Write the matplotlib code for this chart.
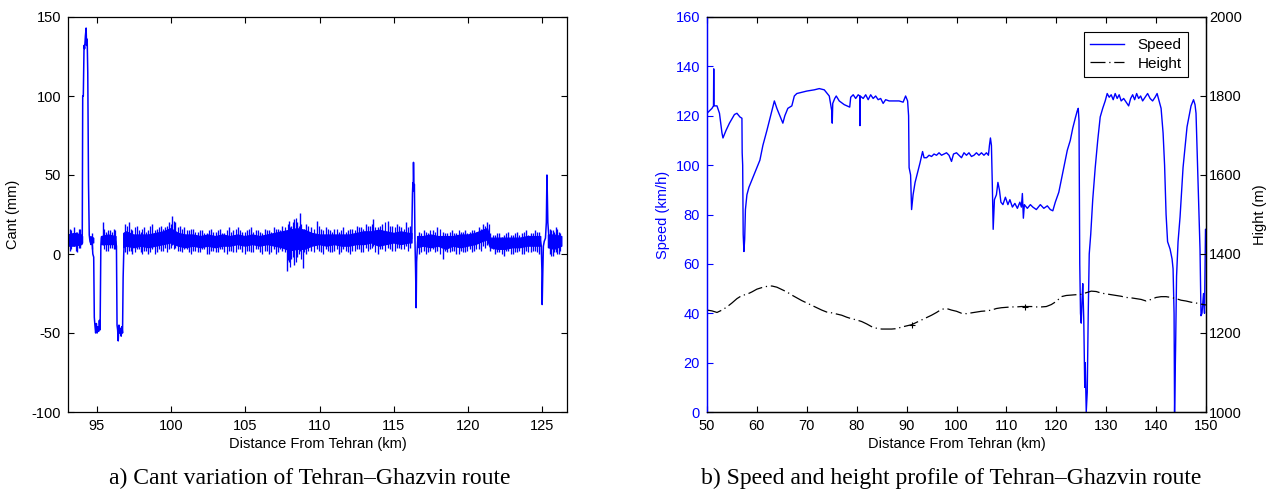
import numpy as np
import matplotlib
matplotlib.use("Agg")
import matplotlib.pyplot as plt

nan = np.nan

# ---------------- (a) Cant data ----------------
band_km = [93.07, 93.5, 94.0, 94.05, 94.3, 94.6, 94.8, 95.05, 95.32, 95.8, 96.3, 96.55, 96.82, 97.0, 97.5,
           98.0, 98.5, 99.0, 99.5, 100.0, 100.5, 101.0, 101.5, 102.0, 102.5, 103.0, 103.5, 104.0, 104.5,
           105.0, 105.5, 106.0, 106.5, 107.0, 107.5, 108.0, 108.5, 109.0, 109.5, 110.0, 110.5, 111.0,
           111.5, 112.0, 112.5, 113.0, 113.5, 114.0, 114.5, 115.0, 115.5, 116.0,
           116.22, 116.4, 116.6,
           117.0, 117.5, 118.0, 118.5, 119.0, 119.5, 120.0, 120.5, 121.0, 121.3, 121.5, 122.0, 122.5,
           123.0, 123.5, 124.0, 124.5,
           124.88, 125.15, 125.4, 125.8, 126.3]
band_lo = [5, 5, 6, 7, nan, 8, 7, nan, 6, 6, 6, nan, 4, 5, 4,
           5, 4, 5, 6, 7, 5, 4, 5, 4, 5, 4, 5, 5, 6,
           5, 6, 5, 6, 5, 4, 2, 3, 3, 5, 6, 5, 6,
           5, 5, 6, 6, 7, 5, 6, 7, 6, 7,
           7, nan, 4,
           5, 4, 5, 3, 5, 4, 5, 6, 8, 9, 4, 3, 3,
           4, 4, 5, 5,
           5, nan, 4, 3, 5]
band_hi = [12, 13, 12, 11, nan, 11, 10, nan, 11, 12, 11, nan, 13, 14, 12,
           12, 12, 13, 14, 16, 13, 12, 12, 11, 12, 11, 12, 11, 12,
           11, 12, 11, 12, 13, 14, 15, 16, 15, 13, 12, 12, 12,
           12, 12, 13, 14, 14, 15, 14, 13, 14, 13,
           13, nan, 11,
           11, 12, 11, 11, 11, 12, 12, 13, 15, 16, 10, 10, 10,
           10, 10, 11, 11,
           11, nan, 12, 12, 11]

spike_km = [93.2, 93.45, 93.7, 93.9, 94.7, 95.4, 95.65, 95.9, 96.15, 96.9, 97.15, 97.4, 97.7, 97.95,
            98.2, 98.45, 98.75, 99.05, 99.3, 99.6, 99.85, 100.07, 100.3, 100.6, 100.9, 101.2, 101.5,
            101.8, 102.1, 102.4, 102.7, 103.0, 103.3, 103.6, 103.9, 104.2, 104.5, 104.8, 105.1, 105.4,
            105.7, 106.0, 106.3, 106.6, 106.9, 107.2, 107.5, 107.79, 107.95, 108.1, 108.3, 108.5,
            108.67, 108.87, 109.1, 109.4, 109.8, 110.1, 110.4, 110.7, 111.0, 111.3, 111.6, 111.9,
            112.2, 112.5, 112.8, 113.1, 113.4, 113.6, 113.9, 114.2, 114.6, 114.9, 115.2, 115.5, 115.8,
            116.1, 116.7, 117.0, 117.3, 117.6, 117.9, 118.3, 118.6, 118.9, 119.2, 119.5, 119.8, 120.1,
            120.4, 120.7, 121.0, 121.25, 121.5, 121.8, 122.1, 122.4, 122.7, 123.0, 123.3, 123.6, 123.9,
            124.2, 124.5, 124.75, 125.5, 125.7, 125.9, 126.1]
spike_lo = [2, 5, 1, 4, 3, 6, 2, 4, 3, 1, 2, 0, 3, 1,
            2, 0, 3, 1, 2, 4, 3, 6, 4, 2, 3, 1, 2,
            1, 3, 0, 2, 1, 3, 1, 2, 1, 3, 1, 2, 1,
            3, 1, 2, 0, 3, 1, 2, -11, -5, -3, -7, -2,
            2, -9, 0, 2, 3, 1, 3, 1, 2, 0, 3, 1,
            2, 3, 1, 4, 3, 5, 0, 3, 4, 2, 4, 3, 5,
            4, 0, 2, 1, 3, 2, -3, 1, 2, 0, 2, 1, 3,
            2, 3, 5, 6, 2, 0, 1, -1, 2, 0, 1, 0, 2,
            1, 2, 0, 0, -1, 1, 0]
spike_hi = [16, 17, 14, 16, 13, 20, 14, 15, 16, 19, 20, 15, 18, 14,
            17, 15, 19, 16, 18, 17, 20, 24, 20, 18, 17, 15, 16,
            14, 15, 13, 16, 14, 16, 13, 17, 15, 17, 14, 15, 17,
            15, 14, 16, 15, 17, 16, 18, 14, 21, 18, 22, 20,
            26, 15, 19, 17, 21, 16, 17, 15, 16, 14, 17, 15,
            16, 18, 17, 19, 18, 22, 17, 19, 21, 18, 19, 17, 20,
            18, 14, 15, 13, 15, 17, 14, 13, 15, 13, 14, 15, 14,
            15, 17, 19, 20, 13, 12, 13, 12, 14, 12, 14, 13, 15,
            13, 15, 14, 16, 15, 17, 14]

# second, finer set of noise strokes
fuzz_km = [93.3, 93.58, 93.82, 95.5, 95.77, 96.03, 96.25, 97.05, 97.28, 97.55, 97.82, 98.08, 98.33,
           98.6, 98.9, 99.18, 99.45, 99.72, 99.97, 100.18, 100.45, 100.75, 101.05, 101.35, 101.65,
           101.95, 102.25, 102.55, 102.85, 103.15, 103.45, 103.75, 104.05, 104.35, 104.65, 104.95,
           105.25, 105.55, 105.85, 106.15, 106.45, 106.75, 107.05, 107.35, 107.65, 107.87, 108.02,
           108.2, 108.4, 108.6, 108.78, 108.98, 109.25, 109.6, 109.95, 110.25, 110.55, 110.85, 111.15,
           111.45, 111.75, 112.05, 112.35, 112.65, 112.95, 113.25, 113.5, 113.75, 114.05, 114.4, 114.75,
           115.05, 115.35, 115.65, 115.95, 116.85, 117.15, 117.45, 117.75, 118.1, 118.45, 118.75, 119.05,
           119.35, 119.65, 119.95, 120.25, 120.55, 120.85, 121.12, 121.38, 121.65, 121.95, 122.25,
           122.55, 122.85, 123.15, 123.45, 123.75, 124.05, 124.35, 124.62, 125.6, 125.8, 126.0, 126.2]
fuzz_lo = [3, 2, 4, 3, 2, 4, 3, 0, 2, 1, 3, 0, 2,
           1, 0, 3, 2, 1, 4, 3, 2, 1, 3, 0,
           2, 1, 3, 0, 2, 1, 3, 0, 2, 1,
           3, 0, 2, 1, 3, 0, 2, 1, 0, 3, 1, -4, -8,
           -2, -5, 0, -3, 1, 2, 1, 2, 0, 2, 1, 3,
           1, 2, 0, 2, 3, 1, 2, 4, 1, 3, 2, 3,
           2, 4, 3, 2, 1, 0, 2, 1, 0, 2, 1,
           2, 0, 1, 2, 1, 3, 2, 4, 5, 3, 1, 0,
           2, 0, 1, 2, 0, 1, 2, 1, -1, 1, 0, 2]
fuzz_hi = [15, 14, 16, 16, 15, 14, 15, 18, 16, 17, 15, 16, 14,
           18, 15, 17, 16, 18, 19, 21, 17, 16, 15, 16, 14,
           15, 13, 15, 14, 15, 13, 15, 14, 16, 15,
           14, 16, 14, 15, 13, 15, 14, 16, 15, 17, 19,
           17, 20, 23, 18, 19, 16, 18, 16, 18, 15, 16, 14, 16,
           15, 14, 16, 15, 17, 16, 18, 19, 17, 18, 20, 18,
           17, 18, 16, 17, 13, 14, 15, 14, 16, 13, 14, 13,
           15, 14, 13, 15, 14, 16, 18, 19, 12, 13, 11,
           13, 12, 13, 12, 14, 12, 13, 14, 15, 14, 16, 13]

# large excursions of the cant trace
exc1_km = [93.98, 94.03, 94.06, 94.1, 94.15, 94.19, 94.24, 94.29, 94.32, 94.36, 94.4, 94.45, 94.5,
           94.55, 94.62, 94.68, 94.74, 94.8, 94.84, 94.88, 94.93, 94.98, 95.03, 95.08, 95.13, 95.18,
           95.23, 95.28, 95.32]
exc1_mm = [9, 12, 100, 100, 132, 130, 138, 143, 132, 136, 115, 45, 12, 8, 6, 10, 0, -2, -40, -45,
           -50, -44, -50, -46, -49, -42, -48, 5, 10]
exc2_km = [96.28, 96.33, 96.37, 96.41, 96.45, 96.5, 96.55, 96.6, 96.65, 96.7, 96.74, 96.78, 96.82, 96.86]
exc2_mm = [8, 5, -45, -48, -55, -45, -50, -47, -52, -46, -50, -15, 0, 10]
exc3_km = [116.2, 116.25, 116.28, 116.3, 116.32, 116.35, 116.38, 116.42, 116.46, 116.5, 116.53, 116.6]
exc3_mm = [10, 38, 45, 40, 58, 42, 44, 8, -10, -34, -5, 8]
exc4_km = [124.86, 124.92, 124.96, 124.98, 125.02, 125.06, 125.12, 125.2, 125.26, 125.3, 125.33, 125.36, 125.42]
exc4_mm = [8, 5, -10, -32, -12, 5, 8, 10, 20, 50, 36, 20, 12]

cant_xticks = [95, 100, 105, 110, 115, 120, 125]
cant_yticks = [-100, -50, 0, 50, 100, 150]

# ---------------- (b) Speed & height data ----------------
speed_km = [50.0, 50.5, 51.0, 51.3, 51.35, 51.4, 52.0, 52.5, 53.0, 53.2, 53.8, 54.5, 55.5, 56.0, 56.6,
            57.0, 57.05, 57.15, 57.25, 57.4, 57.55, 57.7, 58.0, 58.4, 59.0, 60.0, 60.6, 61.2, 62.0,
            63.0, 63.5, 64.0, 64.8, 65.2, 65.6, 66.2, 67.0, 67.5, 68.0, 69.0, 70.0, 71.5, 72.5, 73.5,
            74.5, 75.0, 75.1, 75.2, 75.6, 75.9, 76.5, 77.5, 78.6, 78.8, 79.3, 79.8, 80.3, 80.6, 80.65,
            80.7, 81.3, 81.8, 82.3, 82.8, 83.3, 83.8, 84.3, 84.8, 85.3, 85.8, 86.5, 87.5, 88.5, 89.3,
            89.8, 90.2, 90.4, 90.5, 90.8, 91.0, 91.3, 91.7, 92.2, 92.7, 93.2, 93.5, 94.0, 94.5, 95.0,
            95.5, 96.0, 96.5, 97.0, 97.5, 98.0, 98.5, 99.0, 99.4, 100.0, 100.5, 101.0, 101.5, 102.0,
            102.5, 103.0, 103.5, 104.0, 104.5, 105.0, 105.5, 106.0, 106.4, 106.6, 106.8, 107.0, 107.2,
            107.35, 107.6, 108.0, 108.3, 108.6, 108.9, 109.3, 109.8, 110.3, 110.7, 111.2, 111.7, 112.2,
            112.7, 113.0, 113.2, 113.4, 113.6, 114.2, 114.8, 115.3, 116.0, 116.8, 117.5, 118.2, 118.8,
            119.3, 119.8, 120.5, 121.0, 121.6, 122.2, 122.8, 123.3, 123.8, 124.2, 124.4, 124.55, 124.7,
            124.85, 125.0, 125.15, 125.3, 125.5, 125.7, 125.8, 126.0, 126.2, 126.4, 126.6, 126.9, 127.3,
            127.8, 128.3, 128.8, 129.3, 129.8, 130.2, 130.6, 131.0, 131.4, 131.8, 132.2, 132.6, 133.0,
            133.5, 134.0, 134.5, 134.9, 135.3, 135.7, 136.1, 136.5, 136.9, 137.3, 137.8, 138.3, 138.8,
            139.3, 139.8, 140.2, 140.6, 141.0, 141.4, 141.7, 142.0, 142.3, 142.8, 143.2, 143.4, 143.6,
            143.7, 143.9, 144.1, 144.4, 144.8, 145.4, 146.2, 147.0, 147.5, 147.8, 148.0, 148.3, 148.5,
            148.8, 149.0, 149.2, 149.5, 149.7, 149.9, 150.0]
speed_kmh = [121, 122, 123, 124, 139, 124, 124, 121, 113, 111, 114, 117, 120.5, 121, 119.5,
             119, 105, 100, 72, 65, 70, 82, 88, 91, 94, 99, 102, 108, 114,
             122, 126, 123, 119, 117, 120, 123, 124, 128, 129, 129.5, 130, 130.5, 131, 130.5,
             128, 122, 117, 125, 127, 128, 126, 124.5, 123.5, 127.5, 128.5, 127, 128.5, 128, 116,
             128, 127, 128.5, 126.5, 128.5, 127, 128, 126.5, 127, 125, 126.5, 126, 126, 126, 125.5,
             128, 126, 120, 99, 96, 82, 88, 93, 97, 101, 105.5, 103, 103, 104, 103.5,
             104.5, 104, 105, 104, 104.5, 105, 104, 101.5, 104.5, 105, 104, 103, 105, 104,
             105, 103.5, 104, 105, 104, 105, 104, 105, 104, 108, 111, 108, 90,
             74, 86, 88, 93, 90, 85, 84, 87, 84, 86, 83, 84.5, 82.5,
             85, 83, 88.5, 78.5, 84, 82.5, 84, 83, 82, 84, 82.5, 83.5, 82,
             81.5, 85, 89, 94, 100, 106, 110, 115, 119, 122, 123, 118, 60,
             40, 36, 45, 52, 38, 10, 20, 0, 8, 40, 64, 72, 86,
             99, 110, 119.5, 123, 126, 129, 127.5, 128.5, 126.5, 129, 127, 128.5, 126,
             127, 125.5, 124, 127, 128.5, 126.5, 129, 127, 128, 126, 127.5, 129, 127,
             126, 127.5, 129, 126, 123, 113, 100, 80, 69, 66, 62, 58, 40,
             0, 25, 55, 69, 79, 99, 115.5, 124, 126.5, 124.5, 121, 100, 85,
             66, 39, 40, 48, 40, 74, 74]

height_km = list(range(50, 151))
height_m = [1258, 1256, 1252, 1258, 1266, 1276, 1287, 1295, 1298, 1304, 1311, 1315, 1318, 1319, 1316,
            1310, 1304, 1296, 1289, 1282, 1276, 1270, 1264, 1258, 1253, 1251, 1248, 1245, 1240, 1236,
            1233, 1229, 1223, 1216, 1212, 1210, 1210, 1210, 1211, 1215, 1218, 1221, 1227, 1233, 1239,
            1245, 1252, 1260, 1262, 1258, 1255, 1250, 1249, 1251, 1253, 1255, 1256, 1258, 1262, 1264,
            1265, 1266, 1266, 1267, 1267, 1267, 1266, 1266, 1267, 1272, 1280, 1292, 1295, 1296, 1297,
            1298, 1302, 1306, 1305, 1301, 1299, 1297, 1295, 1293, 1290, 1289, 1287, 1285, 1281, 1285,
            1290, 1292, 1292, 1290, 1287, 1283, 1281, 1278, 1276, 1273, 1271]
height_mark_km = [91.0, 113.7]
height_mark_m = [1221, 1267]

speed_xticks = [50, 60, 70, 80, 90, 100, 110, 120, 130, 140, 150]
speed_yticks = [0, 20, 40, 60, 80, 100, 120, 140, 160]
height_yticks = [1000, 1200, 1400, 1600, 1800, 2000]

# ---------------- Figure ----------------
plt.rcParams['font.family'] = ['Liberation Sans', 'DejaVu Sans']
plt.rcParams['axes.unicode_minus'] = False
BLUE = (0.0, 0.0, 1.0)
FS = 10.5

fig = plt.figure(figsize=(12.68, 4.92), dpi=100)
W, H = 1268.0, 492.0

def axpos(x0, x1, y0, y1):
    return [x0 / W, 1 - y1 / H, (x1 - x0) / W, (y1 - y0) / H]

# ----- (a)
ax1 = fig.add_axes(axpos(68, 567, 17, 412))
ax1.fill_between(band_km, band_lo, band_hi, color=BLUE, linewidth=1.0, edgecolor=BLUE)
ax1.vlines(spike_km, spike_lo, spike_hi, color=BLUE, linewidth=1.0)
ax1.vlines(fuzz_km, fuzz_lo, fuzz_hi, color=BLUE, linewidth=0.9)
for xs, ys in [(exc1_km, exc1_mm), (exc2_km, exc2_mm), (exc3_km, exc3_mm), (exc4_km, exc4_mm)]:
    ax1.plot(xs, ys, color=BLUE, linewidth=1.1)
ax1.set_xlim(93.07, 126.65)
ax1.set_ylim(-100, 150)
ax1.set_xticks(cant_xticks)
ax1.set_yticks(cant_yticks)
ax1.tick_params(direction='in', length=4, width=0.8, top=True, right=True, labelsize=FS, pad=5)
ax1.set_xlabel('Distance From Tehran (km)', fontsize=FS, labelpad=3)
ax1.set_ylabel('Cant (mm)', fontsize=FS, labelpad=8)
for s in ax1.spines.values():
    s.set_linewidth(0.9)

# ----- (b)
ax2 = fig.add_axes(axpos(707, 1206, 17, 412))
l1, = ax2.plot(speed_km, speed_kmh, color=BLUE, linewidth=1.0, label='Speed')
ax2.set_xlim(50, 150)
ax2.set_ylim(0, 160)
ax2.set_xticks(speed_xticks)
ax2.set_yticks(speed_yticks)
ax2.tick_params(axis='x', direction='in', length=4, width=0.8, top=True, labelsize=FS, pad=5)
ax2.tick_params(axis='y', direction='in', length=4, width=0.8, right=True, colors=BLUE,
                labelsize=FS, pad=5)
ax2.set_xlabel('Distance From Tehran (km)', fontsize=FS, labelpad=3)
ax2.set_ylabel('Speed (km/h)', fontsize=FS, color=BLUE, labelpad=4)
for s in ax2.spines.values():
    s.set_linewidth(0.9)
ax2.spines['left'].set_color(BLUE)

ax3 = ax2.twinx()
l2, = ax3.plot(height_km, height_m, color='black', linewidth=0.9,
               linestyle=(0, (12, 3, 1, 3)), label='Height')
ax3.plot(height_mark_km, height_mark_m, linestyle='none', marker='+', color='black',
         markersize=5, markeredgewidth=0.8)
ax3.set_ylim(1000, 2000)
ax3.set_yticks(height_yticks)
ax3.tick_params(axis='y', direction='in', length=4, width=0.8, labelsize=FS, pad=2)
ax3.set_ylabel('Hight (m)', fontsize=FS, labelpad=8)
for s in ax3.spines.values():
    s.set_linewidth(0.9)
ax3.spines['left'].set_color(BLUE)

leg = ax3.legend(handles=[l1, l2], loc='upper right', bbox_to_anchor=(0.964, 0.962),
                 borderaxespad=0, fancybox=False, framealpha=1, edgecolor='black',
                 fontsize=11, handlelength=2.2, borderpad=0.4, labelspacing=0.3,
                 handletextpad=0.9)
leg.get_frame().set_linewidth(0.8)

# captions
fig.text(310 / W, 1 - 478 / H, 'a) Cant variation of Tehran\u2013Ghazvin route',
         ha='center', va='center', fontsize=17, family=['Liberation Serif', 'DejaVu Serif'])
fig.text(951 / W, 1 - 478 / H, 'b) Speed and height profile of Tehran\u2013Ghazvin route',
         ha='center', va='center', fontsize=17, family=['Liberation Serif', 'DejaVu Serif'])

fig.savefig('out.png', dpi=100)
